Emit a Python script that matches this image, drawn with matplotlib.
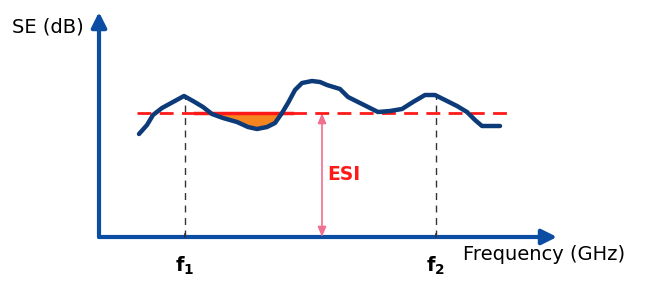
import numpy as np
import matplotlib
matplotlib.use("Agg")
import matplotlib.pyplot as plt

plt.rcParams['font.family'] = ['DejaVu Sans']
plt.rcParams['mathtext.fontset'] = 'custom'
plt.rcParams['mathtext.bf'] = 'DejaVu Sans:bold'
plt.rcParams['mathtext.rm'] = 'DejaVu Sans'

# Kurve SE ueber Frequenz (willkuerliche Einheiten)
freq = [40, 48, 54, 63, 74, 85, 94, 104, 113, 124, 138, 149, 158, 168, 176,
        183, 189, 196, 203, 213, 221, 228, 241, 249, 261, 279, 291, 303,
        314, 326, 336, 344, 358, 368, 376, 383, 401]
se = [103, 112, 122, 129, 135, 141, 136, 130, 123, 119, 115, 110, 108, 110,
      114, 124, 134, 147, 154, 156, 155, 152, 148, 140, 134, 125, 126, 128,
      135, 142, 142, 138, 131, 125, 117, 111, 111]
esi_level = 124
f1, f2 = 86, 337
esi_x = 223
x_max, y_max = 458, 225

col_axis = '#0a4da2'
col_curve = '#0d3a78'
col_red = '#ff1a1a'
col_pink = '#f07090'
col_fill = '#f7851f'

fig = plt.figure(figsize=(6.47, 2.97), dpi=100)
ax = fig.add_axes([0, 0, 1, 1])
ax.set_xlim(-99, 548)
ax.set_ylim(-60, 237)
ax.axis('off')

# Achsen
ax.annotate('', xy=(x_max, 0), xytext=(0, 0),
            arrowprops=dict(arrowstyle='-|>,head_length=0.9,head_width=0.45',
                            color=col_axis, lw=3, shrinkA=0, shrinkB=0))
ax.annotate('', xy=(0, y_max), xytext=(0, 0),
            arrowprops=dict(arrowstyle='-|>,head_length=0.9,head_width=0.45',
                            color=col_axis, lw=3, shrinkA=0, shrinkB=0))

# f1 / f2 Hilfslinien
fx = np.array(freq)
fy = np.array(se)
for f in (f1, f2):
    top = np.interp(f, fx, fy)
    ax.plot([f, f], [0, top], color='#333333', lw=1, ls=(0, (5, 4)), zorder=2)
    ax.plot([f, f], [0, 3], color='#333333', lw=1.2, zorder=3)

# Flaeche unter ESI
mask = (fx >= 105) & (fx <= 190)
ax.fill_between(fx[mask], fy[mask], esi_level, where=fy[mask] <= esi_level,
                interpolate=True, color=col_fill, lw=0, zorder=3)
ax.plot([96, 193], [esi_level, esi_level], color=col_red, lw=2.5, zorder=4)

# ESI Linie
ax.plot([38, 409], [esi_level, esi_level], color=col_red, lw=2,
        ls=(0, (5, 3)), zorder=5)

# Kurve
ax.plot(fx, fy, color=col_curve, lw=3.2, solid_joinstyle='round',
        solid_capstyle='round', zorder=6)

# ESI Pfeil
ax.annotate('', xy=(esi_x, esi_level), xytext=(esi_x, 0),
            arrowprops=dict(arrowstyle='<|-|>,head_length=0.6,head_width=0.25',
                            color=col_pink, lw=1.2, shrinkA=0, shrinkB=0),
            zorder=4)
ax.text(esi_x + 5, 62, 'ESI', color=col_red, fontsize=13.5, fontweight='bold',
        va='center', ha='left')

# Beschriftungen
ax.text(-87, 210, 'SE (dB)', fontsize=14, va='center', ha='left')
ax.text(364, -18, 'Frequency (GHz)', fontsize=14, va='center', ha='left')
ax.text(f1, -29, r'$\mathbf{f_1}$', fontsize=14, va='center', ha='center')
ax.text(f2, -29, r'$\mathbf{f_2}$', fontsize=14, va='center', ha='center')

fig.savefig('out.png', dpi=100)
